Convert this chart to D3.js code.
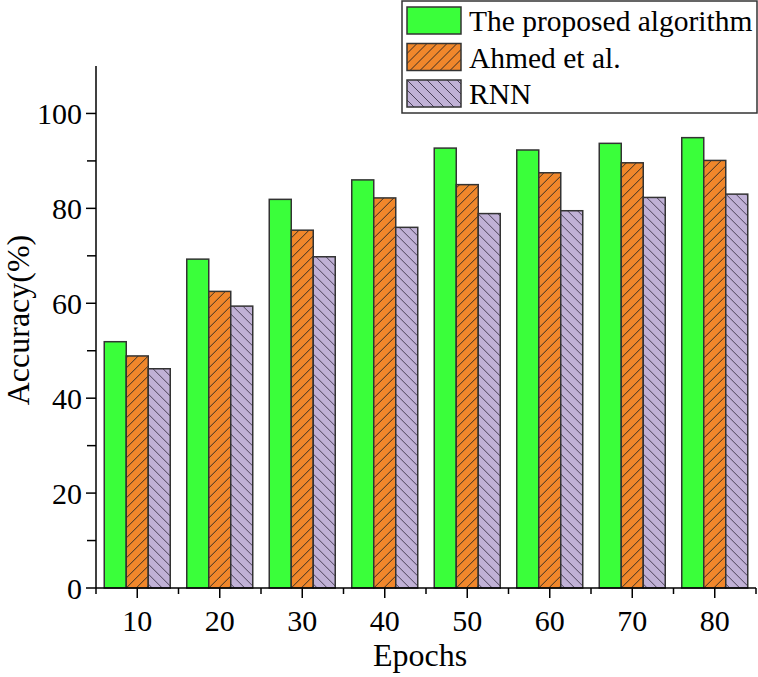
<!DOCTYPE html>
<html>
<head>
<meta charset="utf-8">
<script src="https://cdn.jsdelivr.net/npm/d3@7"></script>
<style>
  body { margin: 0; background: #fff; }
</style>
</head>
<body>
<div id="viz"></div>
<script>
// data
const epochs = ["10", "20", "30", "40", "50", "60", "70", "80"]
const seriesNames = ["The proposed algorithm", "Ahmed et al.", "RNN"]
const proposed = [51.9, 69.3, 81.9, 86.0, 92.7, 92.3, 93.7, 94.9]
const ahmed = [48.9, 62.5, 75.4, 82.2, 85.0, 87.5, 89.6, 90.1]
const rnn = [46.2, 59.4, 69.8, 76.0, 78.9, 79.5, 82.3, 83.0]
const yTicks = [0, 20, 40, 60, 80, 100]

const width = 758
const height = 677
const margin = { top: 66, right: 2, bottom: 89, left: 96 }
const font = "'Liberation Serif', 'Times New Roman', serif"

const svg = d3.select("#viz").append("svg")
  .attr("width", width)
  .attr("height", height)
  .attr("font-family", font)

const defs = svg.append("defs")
// hatch patterns
const hatch = (id, color, lineColor, dir) => {
  const s = 10
  const p = defs.append("pattern")
    .attr("id", id)
    .attr("patternUnits", "userSpaceOnUse")
    .attr("width", s)
    .attr("height", s)
  p.append("rect").attr("width", s).attr("height", s).attr("fill", color)
  const d = dir > 0
    ? `M-2,2 L2,-2 M0,${s} L${s},0 M${s - 2},${s + 2} L${s + 2},${s - 2}`
    : `M-2,${s - 2} L2,${s + 2} M0,0 L${s},${s} M${s - 2},-2 L${s + 2},2`
  p.append("path").attr("d", d)
    .attr("stroke", lineColor).attr("stroke-width", 0.9)
}
hatch("hatchOrange", "#f0872b", "#222", 1)
hatch("hatchPurple", "#c0b1d6", "#3c3448", -1)

const fills = ["#3aff3a", "url(#hatchOrange)", "url(#hatchPurple)"]
const values = [proposed, ahmed, rnn]

const x = d3.scaleBand()
  .domain(epochs)
  .range([margin.left, width - margin.right])
  .paddingInner(0.2)
  .paddingOuter(0.1)

const xSub = d3.scaleBand()
  .domain(d3.range(seriesNames.length))
  .range([0, x.bandwidth()])

const y = d3.scaleLinear()
  .domain([0, 110])
  .range([height - margin.bottom, margin.top])

// bars
const groups = svg.selectAll("g.group")
  .data(epochs)
  .enter()
  .append("g")
  .attr("class", "group")
  .attr("transform", d => `translate(${x(d)},0)`)

groups.selectAll("rect")
  .data((d, i) => values.map((v, s) => ({ s: s, v: v[i] })))
  .enter()
  .append("rect")
  .attr("x", d => xSub(d.s))
  .attr("width", xSub.bandwidth())
  .attr("y", d => y(d.v))
  .attr("height", d => y(0) - y(d.v))
  .attr("fill", d => fills[d.s])
  .attr("stroke", "#333")
  .attr("stroke-width", 1.5)

// y axis
const yAxis = svg.append("g")
  .attr("transform", `translate(${margin.left},0)`)
yAxis.append("line")
  .attr("y1", y(0)).attr("y2", y(110))
  .attr("stroke", "#000").attr("stroke-width", 1.5)
yAxis.selectAll("line.minor")
  .data(d3.range(10, 110, 20))
  .enter().append("line")
  .attr("x1", -9).attr("x2", 0)
  .attr("y1", d => y(d)).attr("y2", d => y(d))
  .attr("stroke", "#000").attr("stroke-width", 1.5)
yAxis.selectAll("line.major")
  .data(yTicks)
  .enter().append("line")
  .attr("x1", -10).attr("x2", 0)
  .attr("y1", d => y(d)).attr("y2", d => y(d))
  .attr("stroke", "#000").attr("stroke-width", 1.5)
yAxis.selectAll("text")
  .data(yTicks)
  .enter().append("text")
  .attr("x", -14)
  .attr("y", d => y(d))
  .attr("dy", "0.35em")
  .attr("text-anchor", "end")
  .attr("font-size", 30)
  .text(d => d)

// x axis
const xAxis = svg.append("g")
  .attr("transform", `translate(0,${y(0)})`)
xAxis.append("line")
  .attr("x1", margin.left).attr("x2", width - margin.right)
  .attr("stroke", "#000").attr("stroke-width", 1.5)
xAxis.selectAll("line.major")
  .data(epochs)
  .enter().append("line")
  .attr("x1", d => x(d) + x.bandwidth() / 2)
  .attr("x2", d => x(d) + x.bandwidth() / 2)
  .attr("y1", 0).attr("y2", 10)
  .attr("stroke", "#000").attr("stroke-width", 1.5)
xAxis.selectAll("line.minor")
  .data(d3.range(epochs.length + 1))
  .enter().append("line")
  .attr("x1", i => margin.left + i * x.step())
  .attr("x2", i => margin.left + i * x.step())
  .attr("y1", 0).attr("y2", 6)
  .attr("stroke", "#000").attr("stroke-width", 1.5)
xAxis.selectAll("text")
  .data(epochs)
  .enter().append("text")
  .attr("x", d => x(d) + x.bandwidth() / 2)
  .attr("y", 43)
  .attr("text-anchor", "middle")
  .attr("font-size", 30)
  .text(d => d)

// axis titles
svg.append("text")
  .attr("x", 420)
  .attr("y", 666)
  .attr("text-anchor", "middle")
  .attr("font-size", 32)
  .text("Epochs")

svg.append("text")
  .attr("transform", `translate(29,320) rotate(-90)`)
  .attr("text-anchor", "middle")
  .attr("font-size", 32)
  .text("Accuracy(%)")

// legend
const legend = svg.append("g")
legend.append("rect")
  .attr("x", 402).attr("y", 1)
  .attr("width", 355).attr("height", 112)
  .attr("fill", "#fff")
  .attr("stroke", "#333").attr("stroke-width", 1.5)
const item = legend.selectAll("g.item")
  .data(seriesNames)
  .enter().append("g")
  .attr("transform", (d, i) => `translate(407,${7 + i * 36.5})`)
item.append("rect")
  .attr("width", 54).attr("height", 27)
  .attr("fill", (d, i) => fills[i])
  .attr("stroke", "#333").attr("stroke-width", 1.5)
item.append("text")
  .attr("x", 62).attr("y", 14)
  .attr("dy", "0.35em")
  .attr("font-size", 29.5)
  .text(d => d)
</script>
</body>
</html>
